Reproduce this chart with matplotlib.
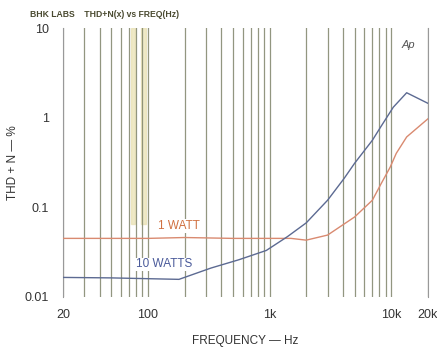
import matplotlib.pyplot as plt
import numpy as np

# THD+N vs frequency, BHK labs amp test
freq_1w = [20, 100, 200, 500, 1000, 1500, 2000, 3000, 5000, 7000, 8200, 9800, 11000, 13400, 20000]
thd_1w = [0.045, 0.045, 0.046, 0.045, 0.045, 0.045, 0.043, 0.049, 0.078, 0.12, 0.18, 0.28, 0.40, 0.61, 0.97]

freq_10w = [20, 50, 180, 330, 560, 940, 1400, 2000, 3000, 4100, 5000, 7000, 8200, 10400, 13400, 20000]
thd_10w = [0.0165, 0.0163, 0.0157, 0.021, 0.026, 0.033, 0.047, 0.067, 0.12, 0.21, 0.31, 0.56, 0.79, 1.31, 1.9, 1.45]

xticks = [20, 100, 1000, 10000, 20000]
xtick_labels = ["20", "100", "1k", "10k", "20k"]
yticks = [0.01, 0.1, 1, 10]
ytick_labels = ["0.01", "0.1", "1", "10"]

plt.rcParams['font.family'] = ['Liberation Sans', 'DejaVu Sans']

fig = plt.figure(figsize=(4.37, 3.56), dpi=100)
ax = fig.add_axes([0.144, 0.166, 0.835, 0.755])
ax.set_xscale('log')
ax.set_yscale('log')
ax.set_xlim(20, 20000)
ax.set_ylim(0.01, 10)

# vertical grid lines at every 1..9 step of each decade
grid_col = '#7f846a'
for dec in [10, 100, 1000, 10000]:
    for k in range(1, 10):
        f = dec * k
        if 20 <= f <= 20000:
            ax.axvline(f, color=grid_col, lw=0.9, alpha=0.85, zorder=1)

# faint yellowish smear from the scan
ax.axvspan(72, 78, ymin=0.27, ymax=1.0, color='#e8e0b0', alpha=0.7, zorder=0)
ax.axvspan(88, 96, ymin=0.27, ymax=1.0, color='#e8e0b0', alpha=0.7, zorder=0)

ax.plot(freq_1w, thd_1w, color='#d98a70', lw=1.0, zorder=3)
ax.plot(freq_10w, thd_10w, color='#5c6a92', lw=1.0, zorder=3)

ax.text(0.26, 0.264, "1 WATT", transform=ax.transAxes, color='#d07040',
        fontsize=8.5, ha='left', va='center', zorder=4,
        bbox=dict(facecolor='white', edgecolor='none', pad=0.5))
ax.text(0.2, 0.121, "10 WATTS", transform=ax.transAxes, color='#4a5a9a',
        fontsize=8.5, ha='left', va='center', zorder=4,
        bbox=dict(facecolor='white', edgecolor='none', pad=0.5))
ax.text(0.965, 0.955, "Ap", transform=ax.transAxes, color='#555555',
        fontsize=8, style='italic', ha='right', va='top')

ax.set_xticks(xticks)
ax.set_xticklabels(xtick_labels)
ax.set_yticks(yticks)
ax.set_yticklabels(ytick_labels)
ax.minorticks_off()
ax.tick_params(length=0, labelsize=9, colors='#333333')
ax.tick_params(axis='x', pad=9)
ax.tick_params(axis='y', pad=10)

for s in ['top', 'bottom']:
    ax.spines[s].set_visible(False)
for s in ['left', 'right']:
    ax.spines[s].set_color('#999999')
    ax.spines[s].set_linewidth(0.8)

ax.set_xlabel("FREQUENCY \u2014 Hz", fontsize=8.5, color='#333333', labelpad=10)
ax.set_ylabel("THD + N \u2014 %", fontsize=8.5, color='#333333', labelpad=4)

fig.text(0.068, 0.958, "BHK LABS    THD+N(x) vs FREQ(Hz)", fontsize=6.2,
         fontweight='bold', color='#4a4a30', ha='left', va='center')

fig.savefig("out.png", dpi=100)
